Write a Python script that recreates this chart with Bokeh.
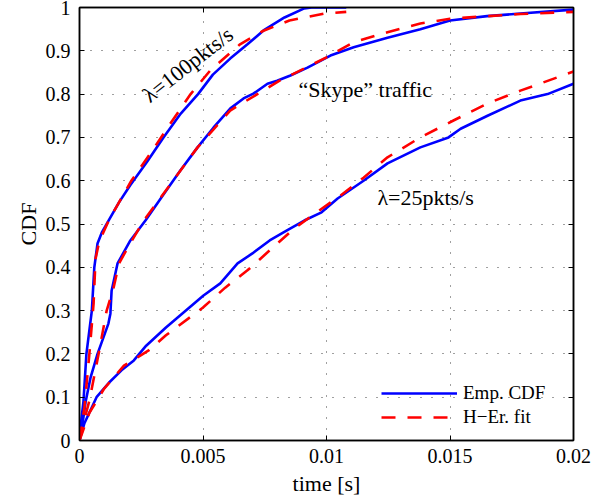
from bokeh.plotting import figure
from bokeh.models import LinearAxis, FixedTicker, Label, Legend, LegendItem, Range1d
from bokeh.embed import file_html
from bokeh.resources import INLINE

# ---- ticks ----
x_ticks = [0, 0.005, 0.01, 0.015, 0.02]
x_tick_labels = ["0", "0.005", "0.01", "0.015", "0.02"]
y_ticks = [0, 0.1, 0.2, 0.3, 0.4, 0.5, 0.6, 0.7, 0.8, 0.9, 1]
y_tick_labels = ["0", "0.1", "0.2", "0.3", "0.4", "0.5", "0.6", "0.7", "0.8", "0.9", "1"]

# ---- lambda = 100 pkts/s ----
t100_emp = [0, 0.00008, 0.00016, 0.00028, 0.0005, 0.0006, 0.00073, 0.0009, 0.0012, 0.0016,
            0.00206, 0.00275, 0.0034, 0.0041, 0.0048, 0.0054, 0.0061, 0.0068, 0.00745,
            0.0083, 0.0091, 0.0094, 0.0108]
cdf100_emp = [0, 0.05, 0.09, 0.2, 0.3, 0.4, 0.455, 0.48, 0.51, 0.55,
              0.59, 0.645, 0.70, 0.755, 0.80, 0.845, 0.882, 0.915, 0.947,
              0.977, 0.998, 1.0, 1.0]
t100_fit = [0, 0.00004, 0.0002, 0.0004, 0.00057, 0.00065, 0.0008, 0.0012, 0.0016, 0.0021,
            0.00287, 0.00368, 0.0045, 0.0053, 0.0059, 0.0065, 0.0074, 0.0085, 0.0099, 0.0108]
cdf100_fit = [0, 0.016, 0.076, 0.2, 0.316, 0.42, 0.46, 0.51, 0.55, 0.60,
              0.663, 0.732, 0.80, 0.855, 0.885, 0.915, 0.945, 0.97, 0.986, 0.99]

# ---- "Skype" traffic ----
tsk_emp = [0, 0.0001, 0.00025, 0.00045, 0.00073, 0.00117, 0.00125, 0.0013, 0.00154, 0.00206,
           0.00267, 0.0034, 0.00409, 0.00478, 0.00543, 0.00611, 0.00664, 0.00704, 0.00761,
           0.008, 0.00854, 0.00923, 0.01016, 0.0111, 0.01247, 0.0138, 0.015, 0.0165,
           0.01785, 0.02]
cdfsk_emp = [0, 0.03, 0.09, 0.146, 0.2, 0.27, 0.293, 0.346, 0.409, 0.462,
             0.508, 0.568, 0.624, 0.677, 0.723, 0.767, 0.79, 0.801, 0.824,
             0.831, 0.843, 0.861, 0.889, 0.908, 0.93, 0.95, 0.97, 0.98,
             0.986, 0.995]
tsk_fit = [0, 0.00005, 0.0004, 0.0008, 0.0011, 0.00138, 0.0016, 0.0019, 0.0026, 0.0034,
           0.00478, 0.0061, 0.0072, 0.0081, 0.0091, 0.01, 0.0111, 0.01247, 0.0138, 0.015,
           0.0165, 0.01785, 0.02]
cdfsk_fit = [0, 0.016, 0.092, 0.208, 0.3, 0.353, 0.409, 0.44, 0.508, 0.57,
             0.677, 0.762, 0.80, 0.831, 0.859, 0.885, 0.92, 0.943, 0.963, 0.974,
             0.98, 0.985, 0.99]

# ---- lambda = 25 pkts/s ----
t25_emp = [0, 0.0002, 0.00069, 0.0012, 0.0017, 0.0022, 0.0027, 0.0035, 0.00502, 0.0057,
           0.0064, 0.0070, 0.0077, 0.0084, 0.0091, 0.0098, 0.01045, 0.0115, 0.01247, 0.0138,
           0.01494, 0.01543, 0.01652, 0.01785, 0.01895, 0.02]
cdf25_emp = [0, 0.04, 0.10, 0.134, 0.162, 0.185, 0.219, 0.261, 0.335, 0.363,
             0.409, 0.432, 0.462, 0.485, 0.508, 0.527, 0.559, 0.60, 0.64, 0.677,
             0.70, 0.72, 0.75, 0.785, 0.80, 0.824]
t25_fit = [0, 0.0004, 0.001, 0.0018, 0.0028, 0.0035, 0.005, 0.0059, 0.0068, 0.0077,
           0.0087, 0.0096, 0.01057, 0.0115, 0.01247, 0.0138, 0.01514, 0.0165, 0.01785, 0.02]
cdf25_fit = [0, 0.064, 0.12, 0.173, 0.208, 0.243, 0.307, 0.353, 0.393, 0.439,
             0.49, 0.527, 0.566, 0.607, 0.654, 0.70, 0.739, 0.778, 0.808, 0.852]

FONT = "Liberation Serif"
TICK_FS = "20px"
LABEL_FS = "22px"
NOTE_FS = "22px"
LEG_FS = "19px"
BLUE = "#0000ff"
RED = "#ff0000"

p = figure(width=600, height=499, x_range=Range1d(0, 0.02), y_range=Range1d(0, 1),
           output_backend="svg", toolbar_location=None,
           min_border_left=79, min_border_right=27, min_border_top=7, min_border_bottom=59,
           x_axis_label="time [s]", y_axis_label="CDF")
p.background_fill_color = "white"
p.border_fill_color = "white"
p.outline_line_color = "black"
p.outline_line_width = 1.5

xt = FixedTicker(ticks=x_ticks)
yt = FixedTicker(ticks=y_ticks)

for ax, tk, labs in ((p.xaxis[0], xt, x_tick_labels), (p.yaxis[0], yt, y_tick_labels)):
    ax.ticker = tk
    ax.major_label_overrides = dict(zip(tk.ticks, labs))
    ax.minor_tick_line_color = None
    ax.major_tick_in = 5
    ax.major_tick_out = 0
    ax.major_tick_line_color = "black"
    ax.axis_line_color = "black"
    ax.axis_line_width = 1.5
    ax.major_label_text_font = FONT
    ax.major_label_text_font_size = TICK_FS
    ax.major_label_text_color = "black"
    ax.axis_label_text_font = FONT
    ax.axis_label_text_font_size = LABEL_FS
    ax.axis_label_text_font_style = "normal"
    ax.axis_label_text_color = "black"
    ax.major_label_standoff = 9

p.xaxis[0].major_label_standoff = 8
p.xaxis[0].axis_label_standoff = 5
p.yaxis[0].axis_label_standoff = 2

for loc, tk in (("above", xt), ("right", yt)):
    ax = LinearAxis(ticker=tk, major_tick_in=5, major_tick_out=0,
                    minor_tick_line_color=None, major_label_standoff=0,
                    major_label_text_color=None,
                    axis_line_width=1.5, axis_line_color="black")
    p.add_layout(ax, loc)

p.xgrid.ticker = xt
p.ygrid.ticker = yt
for g in (p.xgrid, p.ygrid):
    g.grid_line_color = "black"
    g.grid_line_alpha = 0.75
    g.grid_line_dash = "1 10"
    g.grid_line_width = 1

# empirical (blue) below, fits (red dashed) on top
b1 = p.line(t100_emp, cdf100_emp, line_color=BLUE, line_width=2.6)
p.line(tsk_emp, cdfsk_emp, line_color=BLUE, line_width=2.6)
p.line(t25_emp, cdf25_emp, line_color=BLUE, line_width=2.6)
r1 = p.line(t100_fit, cdf100_fit, line_color=RED, line_width=2.6, line_dash="14 12")
p.line(tsk_fit, cdfsk_fit, line_color=RED, line_width=2.6, line_dash="14 12")
p.line(t25_fit, cdf25_fit, line_color=RED, line_width=2.6, line_dash="14 12")

legend = Legend(items=[LegendItem(label="Emp. CDF", renderers=[b1]),
                       LegendItem(label="H\u2212Er. fit", renderers=[r1])],
                location=(302, 12), padding=0, margin=0, spacing=2,
                glyph_width=76, glyph_height=20, label_height=20, label_standoff=6,
                border_line_alpha=0, background_fill_alpha=0,
                label_text_font=FONT, label_text_font_size=LEG_FS, label_text_color="black")
p.add_layout(legend)

common = dict(text_font=FONT, text_font_size=NOTE_FS, text_color="black",
              text_baseline="alphabetic", text_align="left")
p.add_layout(Label(x=0.00267, y=0.792, text="\u03bb=100pkts/s", angle=0.663, **common))
p.add_layout(Label(x=0.00887, y=0.811, text="\u201cSkype\u201d traffic", **common))
p.add_layout(Label(x=0.01206, y=0.561, text="\u03bb=25pkts/s", **common))

open("out.html", "w").write(file_html(p, INLINE))
